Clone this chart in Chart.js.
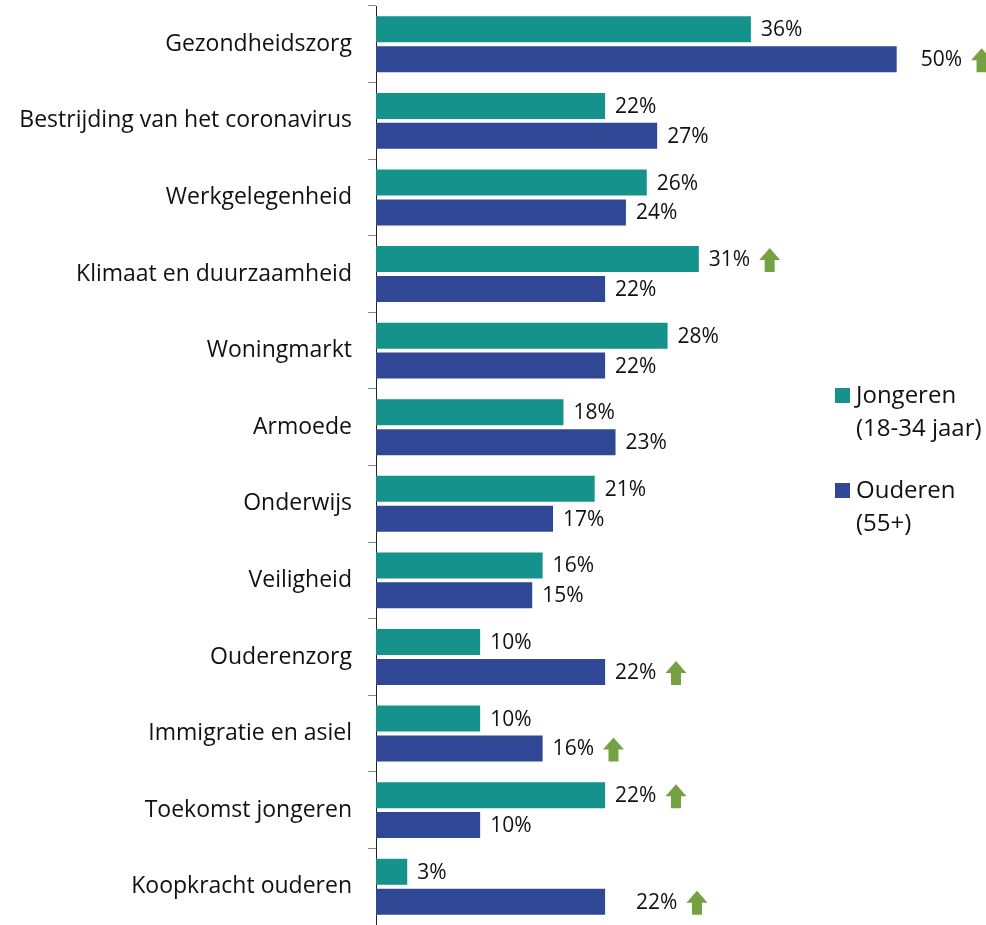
<!DOCTYPE html>
<html>
<head>
<meta charset="utf-8">
<script src="https://cdn.jsdelivr.net/npm/chart.js@4.4.1/dist/chart.umd.min.js"></script>
<style>
  html, body { margin: 0; padding: 0; background: #ffffff; }
  #wrap { width: 986px; height: 925px; position: relative; }
</style>
</head>
<body>
<div id="wrap"><canvas id="prioriteitenChart"></canvas></div>
<script>
// categories and values (percentages)
const categories = [
    'Gezondheidszorg',
    'Bestrijding van het coronavirus',
    'Werkgelegenheid',
    'Klimaat en duurzaamheid',
    'Woningmarkt',
    'Armoede',
    'Onderwijs',
    'Veiligheid',
    'Ouderenzorg',
    'Immigratie en asiel',
    'Toekomst jongeren',
    'Koopkracht ouderen'
];
const jongeren = [36, 22, 26, 31, 28, 18, 21, 16, 10, 10, 22, 3];
const ouderen  = [50, 27, 24, 22, 22, 23, 17, 15, 22, 16, 10, 22];

// significant increase markers (green arrows)
const jongerenUp = [false, false, false, true, false, false, false, false, false, false, true, false];
const ouderenUp  = [true, false, false, false, false, false, false, false, true, true, false, true];

const legendLabels = [['Jongeren', '(18-34 jaar)'], ['Ouderen', '(55+)']];

const TEAL = '#15928c';
const BLUE = '#2f4794';
const GREEN = '#76a143';
const FONT = '"Open Sans", Lato, sans-serif';

// draws value labels + arrows
const valueLabels = {
    id: 'valueLabels',
    afterDatasetsDraw(chart) {
        const ctx = chart.ctx;
        const extraShift = [[], [14, 0, 0, 0, 0, 0, 0, 0, 0, 0, 0, 21]];
        const ups = [jongerenUp, ouderenUp];
        ctx.save();
        ctx.font = '21px ' + FONT;
        ctx.textBaseline = 'middle';
        ctx.textAlign = 'left';
        chart.data.datasets.forEach((ds, di) => {
            const meta = chart.getDatasetMeta(di);
            meta.data.forEach((bar, i) => {
                const txt = ds.data[i] + '%';
                const x = bar.x + 10 + (extraShift[di][i] || 0);
                const y = bar.y + 1;
                ctx.fillStyle = '#111111';
                ctx.fillText(txt, x, y);
                if (ups[di][i]) {
                    const ax = x + ctx.measureText(txt).width + 9;
                    drawArrow(ctx, ax, y);
                }
            });
        });
        ctx.restore();
    }
};

function drawArrow(ctx, x, yMid) {
    const w = 21, h = 24, headH = 12, stemW = 10;
    const top = yMid - h / 2;
    ctx.beginPath();
    ctx.moveTo(x + w / 2, top);
    ctx.lineTo(x + w, top + headH);
    ctx.lineTo(x + w / 2 + stemW / 2, top + headH);
    ctx.lineTo(x + w / 2 + stemW / 2, top + h);
    ctx.lineTo(x + w / 2 - stemW / 2, top + h);
    ctx.lineTo(x + w / 2 - stemW / 2, top + headH);
    ctx.lineTo(x, top + headH);
    ctx.closePath();
    ctx.fillStyle = GREEN;
    ctx.fill();
}

// legend on the right side
const sideLegend = {
    id: 'sideLegend',
    afterDraw(chart) {
        const ctx = chart.ctx;
        const colors = [TEAL, BLUE];
        const tops = [388, 483];
        ctx.save();
        ctx.font = '24px ' + FONT;
        ctx.textBaseline = 'middle';
        ctx.textAlign = 'left';
        legendLabels.forEach((lines, i) => {
            ctx.fillStyle = colors[i];
            ctx.fillRect(835, tops[i], 15, 15);
            ctx.fillStyle = '#111111';
            lines.forEach((line, j) => {
                ctx.fillText(line, 856, tops[i] + 8 + j * 33);
            });
        });
        ctx.restore();
    }
};

new Chart(document.getElementById('prioriteitenChart'), {
    type: 'bar',
    data: {
        labels: categories,
        datasets: [
            {
                label: 'Jongeren (18-34 jaar)',
                data: jongeren,
                backgroundColor: TEAL,
                borderWidth: 0,
                categoryPercentage: 0.78,
                barPercentage: 0.87
            },
            {
                label: 'Ouderen (55+)',
                data: ouderen,
                backgroundColor: BLUE,
                borderWidth: 0,
                categoryPercentage: 0.78,
                barPercentage: 0.87
            }
        ]
    },
    options: {
        indexAxis: 'y',
        responsive: true,
        maintainAspectRatio: false,
        animation: false,
        layout: {
            padding: { top: 6, right: 6, bottom: 0, left: 0 }
        },
        scales: {
            x: {
                display: false,
                min: 0,
                max: 58
            },
            y: {
                afterFit: function(scale) {
                    scale.width = 376;
                    scale.paddingTop = 0;
                    scale.paddingBottom = 0;
                },
                border: {
                    display: true,
                    color: '#222222',
                    width: 1
                },
                grid: {
                    offset: true,
                    drawOnChartArea: false,
                    drawTicks: true,
                    tickLength: 8,
                    color: '#888888'
                },
                ticks: {
                    color: '#111111',
                    padding: 16,
                    font: { family: FONT, size: 23 }
                }
            }
        },
        plugins: {
            legend: { display: false },
            tooltip: { enabled: false }
        }
    },
    plugins: [valueLabels, sideLegend]
});
</script>
</body>
</html>
